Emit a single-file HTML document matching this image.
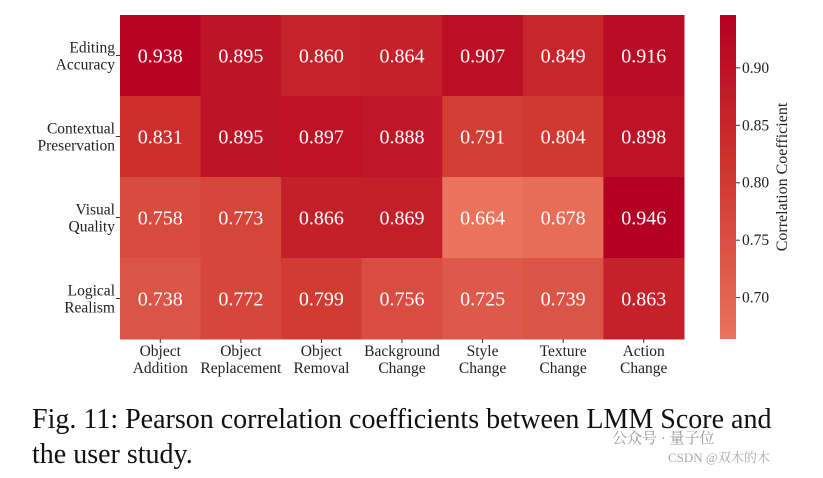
<!DOCTYPE html>
<html><head><meta charset="utf-8"><style>
body{margin:0;background:#fff;width:823px;height:473px;overflow:hidden;font-family:"Liberation Serif",serif;}
svg text{font-family:"Liberation Serif","Noto Serif CJK SC",serif;}
</style></head><body>
<svg id="chart" width="823" height="473" xmlns="http://www.w3.org/2000/svg"></svg>
<script>
const rows=[["Editing","Accuracy"],["Contextual","Preservation"],["Visual","Quality"],["Logical","Realism"]];
const cols=[["Object","Addition"],["Object","Replacement"],["Object","Removal"],["Background","Change"],["Style","Change"],["Texture","Change"],["Action","Change"]];
const values=[[0.938,0.895,0.860,0.864,0.907,0.849,0.916],
[0.831,0.895,0.897,0.888,0.791,0.804,0.898],
[0.758,0.773,0.866,0.869,0.664,0.678,0.946],
[0.738,0.772,0.799,0.756,0.725,0.739,0.863]];
const cbTicks=[0.70,0.75,0.80,0.85,0.90];
const vmin=0.664,vmax=0.946;
const svg=document.getElementById('chart');const NS='http://www.w3.org/2000/svg';
function el(t,a,p){const e=document.createElementNS(NS,t);for(const k in a)e.setAttribute(k,a[k]);(p||svg).appendChild(e);return e;}
const X0=120,X1=684,Y0=15,Y1=339;const cw=(X1-X0)/cols.length,ch=(Y1-Y0)/rows.length;
const stops=[[0,[233,115,93]],[0.5,[208,56,48]],[1,[180,0,34]]];
function color(v){let t=Math.max(0,Math.min(1,(v-vmin)/(vmax-vmin)));for(let i=1;i<stops.length;i++){if(t<=stops[i][0]){const a=stops[i-1],b=stops[i];const f=(t-a[0])/(b[0]-a[0]);const c=a[1].map((x,j)=>Math.round(x+(b[1][j]-x)*f));return `rgb(${c})`;}}return 'rgb(180,0,34)';}
const cbY=v=>Y0+(vmax-v)/(vmax-vmin)*(Y1-Y0);
values.forEach((r,i)=>r.forEach((v,j)=>{
 const x=X0+j*cw,y=Y0+i*ch;
 const c=el('rect',{x:x,y:y,width:cw+0.5,height:ch+0.5,fill:color(v)});
 
 
 const t=el('text',{x:x+cw/2,y:y+ch/2+7,'text-anchor':'middle','font-size':20,fill:'#fff'});t.textContent=v.toFixed(3);
 
 
}));
rows.forEach((r,i)=>{const yc=Y0+i*ch+ch/2;el('line',{x1:X0-4,x2:X0,y1:yc,y2:yc,stroke:'#333'});
 const t=el('text',{x:X0-5,y:yc-3,'text-anchor':'end','font-size':15.5,fill:'#222'});
 
 
 r.forEach((s,k)=>{const ts=el('tspan',{x:X0-5,dy:k?17:0},t);ts.textContent=s;});});
cols.forEach((c,j)=>{const xc=X0+j*cw+cw/2;el('line',{x1:xc,x2:xc,y1:Y1,y2:Y1+4,stroke:'#333'});
 const t=el('text',{x:xc,y:Y1+17,'text-anchor':'middle','font-size':15.5,fill:'#222'});
 
 
 c.forEach((s,k)=>{const ts=el('tspan',{x:xc,dy:k?17:0},t);ts.textContent=s;});});
const defs=el('defs',{});const g=el('linearGradient',{id:'cb',x1:0,y1:1,x2:0,y2:0},defs);
stops.forEach(s=>el('stop',{offset:s[0],'stop-color':`rgb(${s[1]})`},g));
const cb=el('rect',{x:720,y:Y0,width:16,height:Y1-Y0,fill:'url(#cb)'});


cbTicks.forEach(v=>{const y=cbY(v);el('line',{x1:736,x2:740,y1:y,y2:y,stroke:'#333'});
 const t=el('text',{x:742,y:y+5,'font-size':15.5,fill:'#222'});t.textContent=v.toFixed(2);
 
 });
const ct=el('text',{x:0,y:0,transform:'translate(787,177) rotate(-90)','text-anchor':'middle','font-size':16,fill:'#222'});ct.textContent='Correlation Coefficient';


const cap=el('text',{x:32,y:428,'font-size':28,fill:'#111'});


[['Fig. 11: Pearson correlation coefficients between LMM Score and',0],['the user study.',35]].forEach((s,k)=>{const ts=el('tspan',{x:32,dy:s[1]},cap);ts.textContent=s[0];});
const wm=el('text',{x:612,y:443,'font-size':15,fill:'#999'});wm.textContent='公众号 · 量子位';


const wm2=el('text',{x:668,y:462,'font-size':13,fill:'#aaa'});wm2.textContent='CSDN @双木的木';


</script>
</body></html>
